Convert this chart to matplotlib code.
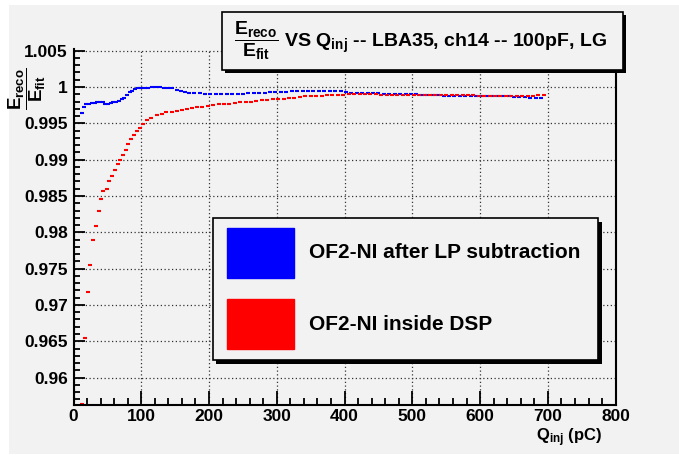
#------------------------------------------------------------------------------
# IMPORTS
#------------------------------------------------------------------------------
import matplotlib
matplotlib.use("Agg")
from matplotlib import pyplot as plt
from matplotlib.patches import Rectangle
from matplotlib.ticker import MultipleLocator

#------------------------------------------------------------------------------
# DATA
#------------------------------------------------------------------------------
labels = ["OF2-NI after LP subtraction", "OF2-NI inside DSP"]
colors = ["#0000ff", "#ff0000"]

xticks = [0, 100, 200, 300, 400, 500, 600, 700, 800]
yticks = [0.96, 0.965, 0.97, 0.975, 0.98, 0.985, 0.99, 0.995, 1.0, 1.005]
ytick_labels = ["0.96", "0.965", "0.97", "0.975", "0.98", "0.985", "0.99",
                "0.995", "1", "1.005"]

qinj_blue = [13, 16, 19, 23, 27, 31, 35, 39, 43, 47, 51, 55, 59, 63, 67, 71,
             75, 79, 83, 87, 91, 95, 100, 105, 110, 116, 122, 128, 134, 140,
             146, 152, 158, 164, 170, 178, 186, 194, 202, 210, 218, 226, 234,
             242, 250, 258, 266, 274, 282, 290, 298, 306, 314, 322, 330, 338,
             346, 354, 362, 370, 378, 386, 394, 402, 410, 418, 426, 434, 442,
             450, 458, 466, 474, 482, 490, 498, 506, 514, 522, 530, 538, 546,
             554, 562, 570, 578, 586, 594, 602, 610, 618, 626, 634, 642, 650,
             658, 666, 674, 682, 690]
ratio_blue = [0.9964, 0.9972, 0.9976, 0.9977, 0.9978, 0.9978, 0.9979, 0.9980,
              0.9979, 0.9977, 0.9977, 0.9978, 0.9979, 0.9980, 0.9981, 0.9983,
              0.9985, 0.9989, 0.9993, 0.9995, 0.9997, 0.9998, 0.9999, 0.9999,
              0.9999, 1.0000, 1.0000, 1.0000, 0.9999, 0.9999, 0.9998, 0.9996,
              0.9994, 0.9993, 0.9992, 0.9992, 0.9992, 0.9991, 0.9991, 0.9991,
              0.9991, 0.9991, 0.9991, 0.9991, 0.9991, 0.9992, 0.9992, 0.9992,
              0.9992, 0.9993, 0.9993, 0.9993, 0.9993, 0.9994, 0.9994, 0.9994,
              0.9994, 0.9994, 0.9994, 0.9994, 0.9994, 0.9994, 0.9994, 0.9993,
              0.9992, 0.9992, 0.9992, 0.9992, 0.9992, 0.9992, 0.9991, 0.9991,
              0.9991, 0.9991, 0.9990, 0.9990, 0.9990, 0.9989, 0.9989, 0.9989,
              0.9989, 0.9988, 0.9988, 0.9988, 0.9988, 0.9988, 0.9988, 0.9988,
              0.9988, 0.9988, 0.9988, 0.9987, 0.9987, 0.9987, 0.9986, 0.9986,
              0.9986, 0.9985, 0.9985, 0.9985]

qinj_red = [13, 17, 21, 25, 29, 33, 37, 41, 44, 49, 53, 57, 61, 65, 69, 73,
            77, 81, 85, 89, 94, 98, 103, 109, 115, 123, 130, 137, 145, 152,
            160, 167, 175, 182, 190, 198, 206, 214, 222, 230, 238, 246, 254,
            262, 270, 278, 286, 294, 302, 310, 318, 326, 334, 342, 350, 358,
            366, 374, 382, 390, 398, 406, 414, 422, 430, 438, 446, 454, 462,
            470, 478, 486, 494, 502, 510, 518, 526, 534, 542, 550, 558, 566,
            574, 582, 590, 598, 606, 614, 622, 630, 638, 646, 654, 662, 670,
            678, 686, 694]
ratio_red = [0.9564, 0.9655, 0.9718, 0.9755, 0.9789, 0.9809, 0.9829, 0.9846,
             0.9857, 0.9860, 0.9871, 0.9878, 0.9886, 0.9894, 0.9899, 0.9906,
             0.9913, 0.9922, 0.9928, 0.9934, 0.9939, 0.9944, 0.9949, 0.9954,
             0.9957, 0.9961, 0.9963, 0.9965, 0.9966, 0.9967, 0.9969, 0.9970,
             0.9971, 0.9972, 0.9973, 0.9974, 0.9975, 0.9976, 0.9976, 0.9977,
             0.9978, 0.9979, 0.9979, 0.9980, 0.9981, 0.9982, 0.9982, 0.9983,
             0.9983, 0.9984, 0.9985, 0.9985, 0.9986, 0.9987, 0.9987, 0.9988,
             0.9988, 0.9989, 0.9989, 0.9989, 0.9989, 0.9990, 0.9990, 0.9990,
             0.9991, 0.9990, 0.9990, 0.9989, 0.9989, 0.9989, 0.9989, 0.9989,
             0.9989, 0.9989, 0.9989, 0.9989, 0.9989, 0.9989, 0.9989, 0.9989,
             0.9989, 0.9989, 0.9989, 0.9989, 0.9989, 0.9988, 0.9988, 0.9988,
             0.9988, 0.9988, 0.9988, 0.9988, 0.9988, 0.9988, 0.9988, 0.9988,
             0.9989, 0.9989]

#------------------------------------------------------------------------------
# FUNCTIONS
#------------------------------------------------------------------------------
W, H = 679, 455


def fx(px):
    return px / W


def fy(py):
    return 1 - py / H


def box(fig, x0, y0, x1, y1, shadow):
    """ ROOT style box with a shadow, given in pixels. """
    fig.patches.append(Rectangle((fx(x0 + shadow), fy(y1 + shadow)),
                                 fx(x1 - x0), (y1 - y0) / H,
                                 transform=fig.transFigure,
                                 facecolor="black", edgecolor="none",
                                 zorder=5))
    fig.patches.append(Rectangle((fx(x0), fy(y1)), fx(x1 - x0), (y1 - y0) / H,
                                 transform=fig.transFigure,
                                 facecolor="#f2f2f2", edgecolor="black",
                                 linewidth=1.2, zorder=6))

#------------------------------------------------------------------------------
# MAIN
#------------------------------------------------------------------------------
def main():

    plt.rcParams["font.family"] = ["Liberation Sans", "DejaVu Sans"]
    plt.rcParams["font.weight"] = "bold"
    plt.rcParams["mathtext.fontset"] = "custom"
    plt.rcParams["mathtext.rm"] = "Liberation Sans:bold"
    plt.rcParams["mathtext.it"] = "Liberation Sans:bold"
    plt.rcParams["mathtext.bf"] = "Liberation Sans:bold"

    fig = plt.figure(figsize=(6.79, 4.55), dpi=100, facecolor="white")
    fig.patches.append(Rectangle((fx(8.5), fy(454)), fx(679 - 8.5),
                                 (454 - 5) / H, transform=fig.transFigure,
                                 facecolor="#f2f2f2", edgecolor="none",
                                 zorder=-10))

    ax = fig.add_axes([fx(73.5), fy(404.5), fx(615.7 - 73.5),
                       (404.5 - 48.5) / H])
    ax.set_facecolor("#f2f2f2")

    for q, r, c in [(qinj_blue, ratio_blue, colors[0]),
                    (qinj_red, ratio_red, colors[1])]:
        ax.plot(q, r, linestyle="none", marker="_", markersize=3.5,
                markeredgewidth=1.5, color=c, clip_on=True)

    ax.set_xlim(0, 800)
    ax.set_ylim(0.9563, 1.0053)
    ax.set_xticks(xticks)
    ax.set_xticklabels([str(v) for v in xticks], fontweight="bold")
    ax.set_yticks(yticks)
    ax.set_yticklabels(ytick_labels, fontweight="bold")
    ax.xaxis.set_minor_locator(MultipleLocator(20))
    ax.yaxis.set_minor_locator(MultipleLocator(0.001))

    ax.tick_params(which="both", direction="in", top=False, right=False,
                   width=1.3, labelsize=12.5)
    ax.tick_params(axis="x", which="major", length=10, pad=3)
    ax.tick_params(axis="x", which="minor", length=5)
    ax.tick_params(axis="y", which="major", length=8, pad=4)
    ax.tick_params(axis="y", which="minor", length=4.5)

    ax.grid(True, which="major", linestyle=(0, (1, 2)), color="#333333",
            linewidth=0.9)
    ax.spines["top"].set_visible(False)
    for s in ["left", "bottom", "right"]:
        ax.spines[s].set_linewidth(1.5)

    # axis titles
    fig.text(fx(27), fy(89), r"$\dfrac{E_{reco}}{E_{fit}}$", rotation=90,
             ha="center", va="center", fontsize=13.5)
    fig.text(fx(602), fy(441), r"Q$_{inj}$ (pC)", ha="right",
             va="baseline", fontsize=12)

    # title box
    box(fig, 222, 12, 623, 70, 3)
    fig.text(fx(421), fy(41),
             r"$\dfrac{E_{reco}}{E_{fit}}$ VS Q$_{inj}$ -- LBA35, ch14 -- 100pF, LG",
             ha="center", va="center", fontsize=14, zorder=7)

    # legend
    box(fig, 212.7, 218, 598, 360, 3.5)
    for i, (lab, c) in enumerate(zip(labels, colors)):
        top = 228 + i * 71
        fig.patches.append(Rectangle((fx(227), fy(top + 50)), fx(67), 50 / H,
                                     transform=fig.transFigure, facecolor=c,
                                     edgecolor=c, zorder=7))
        fig.text(fx(309), fy(top + 25), lab, ha="left", va="center",
                 fontsize=15, zorder=7)

    fig.savefig("out.png", dpi=100, facecolor=fig.get_facecolor())

#------------------------------------------------------------------------------
if __name__ == '__main__':
    main()
